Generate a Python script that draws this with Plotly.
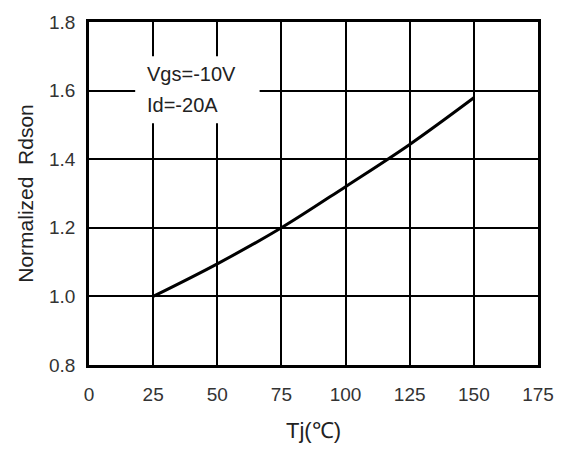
import plotly.graph_objects as go

tj = [25, 50, 75, 100, 125, 150]
rdson = [1.0, 1.095, 1.20, 1.32, 1.443, 1.579]
x_ticks = [0, 25, 50, 75, 100, 125, 150, 175]
y_ticks = [0.8, 1.0, 1.2, 1.4, 1.6, 1.8]
cond_lines = ["Vgs=-10V", "Id=-20A"]

FONT = "Liberation Sans, Arial, sans-serif"

fig = go.Figure()
fig.add_trace(go.Scatter(x=tj, y=rdson, mode="lines",
                         line=dict(color="black", width=3, shape="spline"),
                         showlegend=False, hoverinfo="skip"))

fig.add_shape(type="rect", xref="x", yref="y", x0=18, x1=66.5, y0=1.505, y1=1.70,
              fillcolor="white", line=dict(width=0), layer="above")
fig.add_annotation(x=22, y=1.648, xref="x", yref="y", text=cond_lines[0], showarrow=False,
                   xanchor="left", yanchor="middle", font=dict(family=FONT, size=20, color="#222"))
fig.add_annotation(x=22, y=1.558, xref="x", yref="y", text=cond_lines[1], showarrow=False,
                   xanchor="left", yanchor="middle", font=dict(family=FONT, size=20, color="#222"))

axis_common = dict(showgrid=True, gridcolor="black", gridwidth=2, zeroline=False,
                   showline=True, linecolor="black", linewidth=2.5, mirror=True,
                   ticks="", tickfont=dict(family=FONT, size=19, color="#333"))

fig.update_xaxes(range=[0, 175], tickvals=x_ticks, ticktext=[str(v) for v in x_ticks],
                 ticklabelstandoff=10,
                 title=dict(text="Tj(℃)", font=dict(family=FONT, size=22, color="#222"), standoff=20),
                 **axis_common)
fig.update_yaxes(range=[0.8, 1.8], tickvals=y_ticks, ticktext=[f"{v:.1f}" for v in y_ticks],
                 ticklabelstandoff=7,
                 title=dict(text="Normalized  Rdson", font=dict(family=FONT, size=21, color="#222"), standoff=10),
                 **axis_common)

fig.update_layout(width=568, height=452, margin=dict(l=89, r=30, t=18, b=81),
                  plot_bgcolor="white", paper_bgcolor="white")

fig.write_html("out.html")
